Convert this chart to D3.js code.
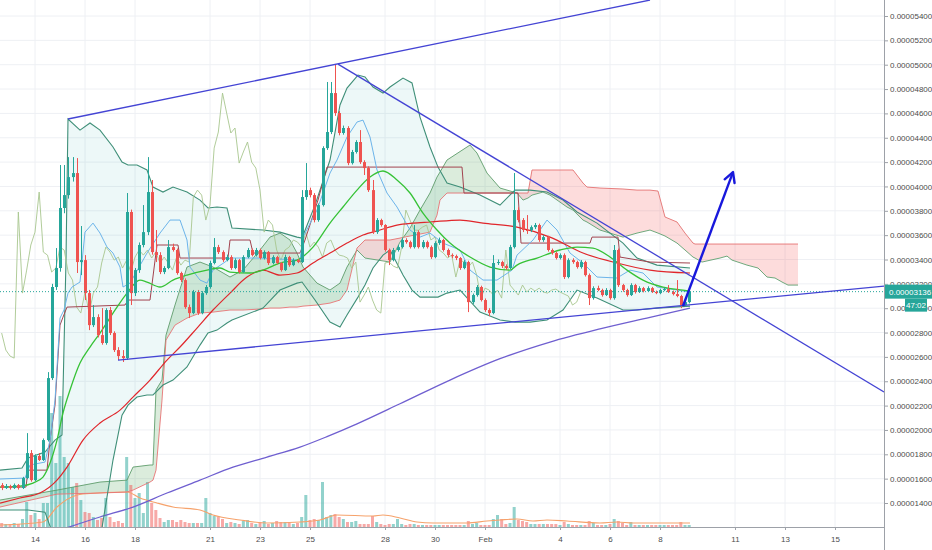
<!DOCTYPE html>
<html><head><meta charset="utf-8">
<script src="https://cdn.jsdelivr.net/npm/d3@7/dist/d3.min.js"></script>
<style>body{margin:0;background:#fff;}svg{display:block;font-family:"Liberation Sans",Arial,sans-serif;}</style>
</head><body><svg id="c" width="932" height="550"></svg>
<script>
// ---------- DATA (prices in satoshi, 1e-8) ----------
const xTickDays = [14,16,18,21,23,25,28,30,32,35,37,39,42,44,46];
const xTickLabels = ["14","16","18","21","23","25","28","30","Feb","4","6","8","11","13","15"];
const yTicks = [1400,1600,1800,2000,2200,2400,2600,2800,3000,3200,3400,3600,3800,4000,4200,4400,4600,4800,5000,5200,5400];
const lastPrice = 3136;
const countdown = "47:02";
// 4h candles starting Jan 12 16:00: [open, high, low, close]
const candles = [
[1547,1564,1506,1523],[1523,1556,1515,1539],[1539,1550,1510,1523],[1523,1560,1515,1547],[1547,1556,1510,1523],
[1523,1615,1515,1605],[1605,1974,1595,1810],[1810,1835,1575,1588],[1588,1800,1580,1786],[1786,1810,1745,1753],
[1753,1930,1745,1917],[1917,2475,1905,2426],[2426,3200,2410,3174],[3174,3494,3150,3330],[3330,4176,3300,3823],
[3823,4176,3780,3929],[3929,4241,3900,4077],[4077,4241,4040,4110],[4110,4233,3289,3379],[3379,3675,3272,3395],
[3395,3436,3067,3124],[3124,3150,2820,2861],[2861,3026,2845,2927],[2927,2950,2760,2779],[2779,3001,2700,2714],
[2714,3000,2700,2985],[2985,3010,2780,2796],[2796,2810,2640,2656],[2656,2680,2574,2607],[2607,2656,2558,2590],
[2590,3946,2575,3790],[3790,3810,3026,3124],[3124,3330,3100,3313],[3313,3540,3290,3519],[3519,3847,3500,3625],
[3625,4241,3600,3954],[3954,4053,3440,3461],[3461,3642,3379,3436],[3436,3460,3280,3297],[3297,3345,3280,3330],
[3330,3560,3320,3502],[3502,3530,3465,3478],[3478,3490,3275,3289],[3289,3300,3215,3231],[3231,3245,2995,3009],
[3009,3030,2919,2960],[2960,3150,2950,3133],[3133,3150,2945,2960],[2960,3140,2950,3124],[3124,3190,3110,3174],
[3174,3390,3160,3371],[3371,3576,3360,3502],[3502,3520,3445,3461],[3461,3475,3380,3395],[3395,3440,3385,3420],
[3420,3435,3315,3330],[3330,3410,3320,3395],[3395,3405,3285,3297],[3297,3435,3290,3420],[3420,3495,3410,3478],
[3478,3490,3425,3436],[3436,3495,3425,3478],[3478,3490,3400,3412],[3412,3475,3400,3461],[3461,3470,3355,3371],
[3371,3435,3360,3420],[3420,3430,3360,3371],[3371,3380,3300,3313],[3313,3440,3305,3420],[3420,3430,3340,3354],
[3354,3410,3345,3395],[3395,3405,3370,3379],[3379,3970,3370,3913],[3913,4192,3890,3970],[3970,3990,3910,3929],
[3929,3945,3705,3724],[3724,3860,3710,3847],[3847,4330,3835,4315],[4315,4858,4300,4447],[4447,4858,4430,4767],
[4767,5005,4580,4603],[4603,4620,4420,4439],[4439,4500,4425,4480],[4480,4495,4175,4192],[4192,4300,4180,4283],
[4283,4380,4270,4365],[4365,4463,4185,4200],[4200,4215,4094,4151],[4151,4165,3955,3970],[3970,4053,3610,3625],
[3625,3740,3610,3724],[3724,3735,3670,3683],[3683,3690,3465,3478],[3478,3490,3354,3395],[3395,3495,3385,3478],
[3478,3520,3465,3502],[3502,3580,3490,3560],[3560,3575,3530,3543],[3543,3555,3490,3502],[3502,3683,3490,3625],
[3625,3640,3490,3502],[3502,3560,3490,3543],[3543,3555,3490,3502],[3502,3515,3405,3420],[3420,3550,3410,3535],
[3535,3580,3520,3560],[3560,3570,3465,3478],[3478,3490,3420,3436],[3436,3450,3410,3428],[3428,3440,3395,3412],
[3412,3420,3315,3330],[3330,3395,3320,3379],[3379,3390,2968,3050],[3050,3120,3035,3108],[3108,3190,3095,3174],
[3174,3185,3055,3067],[3067,3080,2970,2985],[2985,3000,2935,2960],[2960,3436,2950,3371],[3371,3400,3355,3379],
[3379,3390,3330,3346],[3346,3360,3315,3330],[3330,3520,3320,3502],[3502,4110,3490,3806],[3806,3830,3705,3724],
[3724,3740,3625,3642],[3642,3765,3610,3640],[3640,3680,3625,3666],[3666,3700,3650,3683],[3683,3695,3545,3560],
[3560,3600,3545,3584],[3584,3595,3465,3478],[3478,3490,3440,3453],[3453,3465,3400,3412],[3412,3450,3400,3436],
[3436,3450,3240,3256],[3256,3410,3245,3395],[3395,3410,3365,3379],[3379,3390,3325,3338],[3338,3395,3325,3379],
[3379,3390,3260,3272],[3272,3285,3026,3083],[3083,3180,3070,3165],[3165,3185,3140,3149],[3149,3160,3095,3108],
[3108,3165,3100,3149],[3149,3160,3070,3083],[3083,3519,3070,3478],[3478,3490,3175,3190],[3190,3200,3135,3149],
[3149,3160,3095,3108],[3108,3205,3100,3190],[3190,3200,3120,3133],[3133,3180,3125,3165],[3165,3175,3130,3141],
[3141,3180,3135,3165],[3165,3175,3125,3133],[3133,3145,3115,3124],[3124,3160,3115,3149],[3149,3170,3140,3157],
[3157,3190,3125,3133],[3133,3145,3105,3116],[3116,3231,3090,3100],[3100,3110,3001,3026],[3026,3065,3015,3050],
[3050,3150,3040,3136]
];
const volumes = [
4,3,3,4,3,8,25,12,14,8, 24,24,114,64,131,70,64,40,44,27, 15,14,10,7,9,29,10,5,6,4,
70,42,29,34,14,45,24,17,9,5, 7,7,5,7,5,4,4,4,4,29, 14,11,10,8,4,5,4,3,6,7,
4,3,5,6,3,4,6,5,5,4, 3,4,10,32,7,8,7,45,10,12, 13,10,8,5,5,6,3,3,3,11,
5,3,2,3,3,8,3,2,3,3, 2,2,2,2,2,2,2,2,2,2, 2,2,6,3,4,2,2,2,8,12,
8,3,4,20,7,6,5,3,3,3, 3,3,3,3,2,5,3,2,2,2, 2,6,4,2,2,2,3,8,6,4,
2,5,2,2,2,2,2,2,2,2, 2,2,2,5,2,2
];
const volumeMA = [[12.6,2],[14.32,5],[14.88,20],[15.68,32],[15.92,33],[17.68,35],[18.2,29],[18.88,24],[19.52,20],[20.6,17],[21.12,12],[22.2,7],[23.28,4],[24.6,5],[25.4,7],[26.08,12],[27.52,11],[27.92,12],[28.6,9],[29.28,5],[29.92,4],[31.28,4],[32.08,6],[32.6,7],[33.28,8],[33.92,6],[34.48,7],[35.28,6],[36.6,4],[37.28,5],[37.92,4],[40.2,4]];
// moving averages [day of Jan, price]
const maGreen = [[12.6,1531],[13.4,1539],[13.92,1564],[14.32,1613],[14.6,1728],[14.88,1917],[15.12,2139],[15.4,2328],[15.8,2550],[16.2,2681],[16.6,2796],[17.28,3009],[17.68,3124],[18.2,3231],[18.48,3215],[19.0,3174],[19.52,3231],[20.08,3272],[20.88,3313],[21.4,3330],[21.8,3297],[22.6,3289],[23.12,3313],[23.8,3371],[24.48,3395],[25.12,3502],[25.8,3699],[26.32,3831],[26.88,3970],[27.4,4077],[27.92,4127],[28.48,4053],[29.0,3946],[29.52,3781],[30.08,3642],[30.6,3535],[31.4,3420],[32.2,3338],[33.0,3313],[33.28,3354],[34.08,3412],[35.0,3478],[35.68,3502],[36.32,3494],[37.0,3420],[37.68,3313],[38.32,3231],[39.12,3174],[39.92,3149],[40.2,3141]];
const maRed = [[12.6,1399],[13.4,1441],[14.2,1482],[14.88,1588],[15.28,1695],[15.92,1917],[16.6,2057],[17.4,2163],[17.92,2270],[18.6,2410],[19.28,2574],[19.8,2681],[20.48,2837],[21.12,2985],[21.8,3124],[22.48,3256],[23.12,3313],[23.8,3272],[24.48,3289],[25.12,3371],[25.8,3453],[26.48,3535],[27.12,3601],[27.8,3642],[28.48,3683],[29.12,3699],[29.8,3708],[31.0,3724],[31.92,3699],[33.28,3666],[34.6,3584],[35.92,3453],[37.28,3371],[38.6,3313],[40.2,3289]];
const maPurple = [[15.0,1178],[16.6,1285],[17.92,1367],[19.28,1482],[20.6,1588],[21.92,1695],[23.28,1777],[24.6,1859],[25.68,1945],[26.88,2050],[28.6,2215],[30.6,2410],[32.6,2585],[34.6,2722],[36.6,2830],[38.6,2925],[40.2,3001]];
// Bollinger bands
const bbDays = [12.6,13.48,13.72,14.4,14.8,15.08,15.24,15.32,15.8,16.2,16.6,17.12,17.48,17.72,18.08,18.48,18.72,19.12,19.52,20.08,20.6,20.92,21.28,21.68,21.88,23.12,23.8,24.48,24.68,25.2,25.8,26.2,26.48,26.92,27.2,27.52,27.92,28.2,28.72,29.08,29.4,29.8,30.12,30.48,31.0,31.8,32.6,33.2,33.8,34.48,35.12,35.68,36.48,37.52,38.08,38.88,40.2];
const bbUpper = [1670,1687,1769,1818,1917,1958,3395,4554,4463,4521,4463,4324,4200,4176,4176,4135,3995,3954,3995,3954,3888,3823,3831,3823,3658,3642,3625,3584,3576,3847,4217,4669,4808,4915,4899,4817,4767,4817,4890,4850,4570,4324,4159,4028,3995,3929,3847,3970,3970,3954,3888,3790,3699,3535,3412,3354,3330];
const bbLower = [1342,1342,1342,1325,1095,931,849,808,603,767,1095,1753,2122,2204,2270,2287,2287,2369,2410,2517,2697,2796,2820,2878,2903,3001,3149,3206,3215,3067,2886,2845,2944,3091,3190,3330,3436,3478,3272,3149,3091,3091,3091,3124,3149,2968,2903,2886,2886,2903,2985,3149,3083,2985,2985,3001,3017];
// Ichimoku
const tenkan = [[12.6,1597],[13.6,1605],[13.8,1712],[14.4,1736],[14.6,1917],[14.8,2245],[15.0,2919],[15.16,2985],[15.32,3124],[15.48,3174],[15.8,3215],[16.0,3625],[16.32,3699],[16.6,3617],[16.88,3502],[17.12,3453],[17.4,3338],[17.52,3174],[17.8,3206],[18.48,3453],[19.0,3617],[19.4,3724],[19.8,3724],[20.08,3560],[20.2,3338],[20.6,3231],[20.88,3206],[21.12,3313],[21.6,3379],[21.8,3412],[23.0,3412],[24.6,3395],[24.72,3584],[25.28,3806],[25.8,4110],[26.08,4217],[26.48,4406],[26.88,4529],[27.12,4545],[27.4,4406],[27.68,4135],[28.08,3946],[28.48,3831],[29.0,3642],[29.4,3584],[29.8,3617],[30.32,3535],[31.0,3478],[31.4,3313],[31.92,3231],[32.48,3231],[33.08,3313],[33.28,3436],[33.92,3560],[34.48,3724],[34.88,3642],[35.4,3453],[35.92,3371],[36.48,3256],[37.28,3248],[37.8,3313],[38.32,3289],[38.88,3174],[39.68,3149],[40.2,3133]];
const kijun = [[12.6,1531],[13.64,1531],[13.72,1670],[14.48,1670],[14.6,1917],[14.8,2204],[15.0,2861],[15.12,2927],[15.28,3009],[17.6,3026],[17.72,3067],[18.6,3067],[18.88,3519],[19.72,3519],[19.8,3412],[21.72,3412],[21.8,3560],[22.6,3560],[22.72,3453],[24.6,3453],[24.8,3560],[25.32,3888],[25.68,4159],[31.08,4159],[31.16,3946],[33.32,3946],[33.44,3535],[36.2,3535],[36.28,3584],[37.32,3584],[37.4,3420],[38.6,3379],[40.2,3371]];
const cloudDays = [12.6,14.88,16.6,17.68,17.92,18.6,18.72,18.84,19.08,19.24,19.6,20.08,20.6,21.12,21.8,22.32,23.0,23.4,23.8,24.2,24.48,24.72,25.28,25.8,26.2,26.48,26.88,27.2,28.2,28.6,29.0,29.4,29.8,30.08,30.2,30.48,30.6,31.4,31.68,32.08,32.6,33.28,33.52,33.72,33.88,34.32,34.6,35.28,35.52,35.92,36.08,36.6,37.52,38.08,38.6,38.92,39.2,39.68,40.0,40.32,40.4,40.68,41.4,41.68,41.88,42.48,42.92,43.28,43.6,43.88,44.12,44.52];
const senkouA = [1424,1506,1572,1588,1695,1712,1712,2328,2410,2779,3026,3338,3379,3338,3256,3313,3478,3584,3617,3560,3453,3338,3206,3149,3206,3338,3478,3412,3379,3543,3658,3806,3946,4077,4118,4217,4233,4340,4274,4110,3987,3946,3888,3905,3929,3954,3929,3831,3806,3724,3708,3642,3584,3617,3642,3617,3593,3535,3478,3420,3412,3379,3412,3428,3395,3354,3330,3256,3248,3215,3190,3190];
const senkouB = [1367,1473,1482,1490,1506,1572,1588,1670,2245,2738,2861,2919,2960,2968,2985,2985,2993,3001,3001,3009,3009,3017,3026,3042,3067,3149,3494,3560,3560,3576,3593,3609,3625,3765,3888,3946,3946,3946,3946,3946,3946,3946,3946,3946,4135,4135,4135,4135,4135,4028,3995,3987,3979,3970,3970,3962,3749,3708,3617,3535,3527,3527,3527,3527,3527,3527,3527,3527,3527,3527,3527,3527];
const chikouShift = 26; // bars
// drawn lines [day, price]
const channelTop = [[15.32,4554],[38.6,5531]];
const fallingLine = [[26.12,5005],[47.96,2312]];
const risingLine = [[17.32,2574],[47.96,3182]];
const arrowLine = [[39.92,3018],[41.92,4118]];

// ---------- SCALES ----------
const PR = 884, PB = 527;
const DAY0 = Date.UTC(2018,0,1);
const dayToDate = d => new Date(DAY0 + (d-1)*864e5);
const barDate = i => dayToDate(12 + 16/24 + i/6);
const x = d3.scaleUtc().domain([dayToDate(14), dayToDate(46)]).range([35, 835]);
const y = d3.scaleLinear().domain([1400, 5400]).range([503, 16]);
const vy = d3.scaleLinear().domain([0, 131]).range([PB, 396]);
const fmt = v => (v/1e8).toFixed(8);

const svg = d3.select('#c');
const defs = svg.append('defs');
defs.append('clipPath').attr('id','plot').append('rect').attr('x',0).attr('y',0).attr('width',PR).attr('height',PB);

// grid
const grid = svg.append('g');
grid.selectAll('line.h').data(yTicks).join('line').attr('x1',0).attr('x2',PR)
  .attr('y1',d=>y(d)).attr('y2',d=>y(d)).attr('stroke','#eef0f4').attr('stroke-width',1);
grid.selectAll('line.v').data(xTickDays).join('line').attr('y1',0).attr('y2',PB)
  .attr('x1',d=>x(dayToDate(d))).attr('x2',d=>x(dayToDate(d))).attr('stroke','#eef0f4').attr('stroke-width',1);

const plot = svg.append('g').attr('clip-path','url(#plot)');
const xd = d => x(dayToDate(d[0]));
const line = d3.line().x(xd).y(d=>y(d[1]));
const smooth = d3.line().x(xd).y(d=>y(d[1])).curve(d3.curveMonotoneX);

// Bollinger fill
plot.append('path').datum(bbDays)
  .attr('d', d3.area().x(d=>x(dayToDate(d))).y0((d,i)=>y(bbLower[i])).y1((d,i)=>y(bbUpper[i])))
  .attr('fill','rgba(0,150,160,0.07)');

// Ichimoku cloud
const cx = d => x(dayToDate(d));
defs.append('clipPath').attr('id','aboveB').append('path').datum(cloudDays)
  .attr('d', d3.area().x(cx).y0(0).y1((d,i)=>y(senkouB[i])));
defs.append('clipPath').attr('id','aboveA').append('path').datum(cloudDays)
  .attr('d', d3.area().x(cx).y0(0).y1((d,i)=>y(senkouA[i])));
const band = d3.area().x(cx).y0((d,i)=>y(senkouA[i])).y1((d,i)=>y(senkouB[i]));
plot.append('g').attr('clip-path','url(#aboveB)').append('path').datum(cloudDays).attr('d',band).attr('fill','rgba(76,160,80,0.2)');
plot.append('g').attr('clip-path','url(#aboveA)').append('path').datum(cloudDays).attr('d',band).attr('fill','rgba(244,80,80,0.2)');

// volume
const bw = 3;
plot.selectAll('rect.vol').data(volumes).join('rect')
  .attr('x',(d,i)=>x(barDate(i))-bw/2).attr('width',bw)
  .attr('y',d=>vy(d)).attr('height',d=>PB-vy(d))
  .attr('fill',(d,i)=>candles[i][3]>=candles[i][0]?'rgba(38,166,154,0.5)':'rgba(239,83,80,0.5)');
plot.append('path').datum(volumeMA)
  .attr('d', d3.line().x(xd).y(d=>vy(d[1])).curve(d3.curveMonotoneX)).attr('fill','none').attr('stroke','#f6a26b').attr('stroke-width',1.2);

function drawLine(data, color, w, op, gen){
  plot.append('path').datum(data).attr('d',gen||line).attr('fill','none')
    .attr('stroke',color).attr('stroke-width',w||1).attr('opacity',op==null?1:op);
}
drawLine(maPurple,'#6f5fd0',1.3,1,smooth);
drawLine(cloudDays.map((d,i)=>[d,senkouA[i]]),'#5f9e6e',1,0.9);
drawLine(cloudDays.map((d,i)=>[d,senkouB[i]]),'#e57373',1,0.9);
drawLine(bbDays.map((d,i)=>[d,bbUpper[i]]),'#3f8f78',1.1);
drawLine(bbDays.map((d,i)=>[d,bbLower[i]]),'#3f8f78',1.1);
// lagging span: closes shifted back
const chikou = candles.slice(chikouShift).map((c,i)=>[12 + 16/24 + i/6, c[3]]);
drawLine(chikou,'#a9c78f',1,0.9);
drawLine(kijun,'#a2434f',1);
drawLine(tenkan,'#6cb4ea',1);
drawLine(maRed,'#e0262b',1.2,1,smooth);
drawLine(maGreen,'#36c236',1.3,1,smooth);

// candles
const cg = plot.append('g');
candles.forEach((c,i)=>{
  const [o,h,l,cl] = c; const up = cl>=o; const col = up?'#26a69a':'#ef5350';
  const cxp = Math.round(x(barDate(i)))+0.5;
  cg.append('line').attr('x1',cxp).attr('x2',cxp).attr('y1',y(h)).attr('y2',y(l)).attr('stroke',col).attr('stroke-width',1);
  const top = y(Math.max(o,cl)), bot = y(Math.min(o,cl));
  cg.append('rect').attr('x',cxp-1.5).attr('width',3).attr('y',top).attr('height',Math.max(1,bot-top)).attr('fill',col);
});

// last price line
plot.append('line').attr('x1',0).attr('x2',PR).attr('y1',y(lastPrice)).attr('y2',y(lastPrice))
  .attr('stroke','#26a69a').attr('stroke-width',1).attr('stroke-dasharray','1,2');

// drawings
const tl = svg.append('g').attr('clip-path','url(#plot)');
[channelTop, fallingLine, risingLine].forEach(dl=>{
  tl.append('path').datum(dl).attr('d',line).attr('fill','none').attr('stroke','#4444d4').attr('stroke-width',1.3);
});
tl.append('path').datum(arrowLine).attr('d',line).attr('fill','none').attr('stroke','#1818dc').attr('stroke-width',2.4);
{
  const x1=xd(arrowLine[0]), y1=y(arrowLine[0][1]), x2=xd(arrowLine[1]), y2=y(arrowLine[1][1]);
  const a = Math.atan2(y2-y1, x2-x1), L=11, sp=0.5;
  const p = s => [x2 - L*Math.cos(a+s), y2 - L*Math.sin(a+s)];
  const b1=p(sp), b2=p(-sp);
  tl.append('path').attr('d',`M${b1[0]},${b1[1]}L${x2},${y2}L${b2[0]},${b2[1]}`)
    .attr('fill','none').attr('stroke','#1818dc').attr('stroke-width',2.4).attr('stroke-linecap','round').attr('stroke-linejoin','round');
}

// axes
const ly = y(lastPrice);
const pbox = {x:PR+1, y:ly-7, w:48, h:14};
const cbox = {x:905, y:ly+7, w:22, h:13};
defs.append('clipPath').attr('id','lbl').append('path')
  .attr('clip-rule','evenodd')
  .attr('d',`M${PR-5},0H932V550H${PR-5}Z M${pbox.x},${pbox.y}h${pbox.w}v${pbox.h}h${-pbox.w}Z M${cbox.x},${cbox.y}h${cbox.w}v${cbox.h}h${-cbox.w}Z`);
const yAxis = svg.append('g').attr('clip-path','url(#lbl)').append('g').attr('transform',`translate(${PR},0)`)
  .call(d3.axisRight(y).tickValues(yTicks).tickSize(4).tickPadding(2).tickFormat(fmt));
const xAxis = svg.append('g').attr('transform',`translate(0,${PB})`)
  .call(d3.axisBottom(x).tickValues(xTickDays.map(dayToDate)).tickSize(3).tickPadding(6).tickFormat((d,i)=>xTickLabels[i]));
[yAxis,xAxis].forEach(g=>{
  g.select('.domain').attr('stroke','#9da1a8');
  g.selectAll('.tick line').attr('stroke','#9da1a8');
  g.selectAll('text').attr('fill','#4c4c4c').style('font-size','8px').style('font-family','"Liberation Sans",Arial,sans-serif');
});
svg.append('line').attr('x1',0).attr('x2',PR).attr('y1',PB+0.5).attr('y2',PB+0.5).attr('stroke','#9da1a8');
svg.append('line').attr('x1',PR+0.5).attr('x2',PR+0.5).attr('y1',0).attr('y2',550).attr('stroke','#9da1a8');

// price label + countdown
svg.append('rect').attr('x',pbox.x).attr('y',pbox.y).attr('width',pbox.w).attr('height',pbox.h).attr('fill','#26a69a');
svg.append('text').attr('x',PR+5).attr('y',ly+3).attr('fill','#fff').style('font-size','8px').text(fmt(lastPrice));
svg.append('rect').attr('x',cbox.x).attr('y',cbox.y).attr('width',cbox.w).attr('height',cbox.h).attr('fill','#26a69a');
svg.append('text').attr('x',cbox.x+cbox.w/2).attr('y',cbox.y+9.5).attr('text-anchor','middle').attr('fill','#fff').style('font-size','8px').text(countdown);
</script></body></html>
